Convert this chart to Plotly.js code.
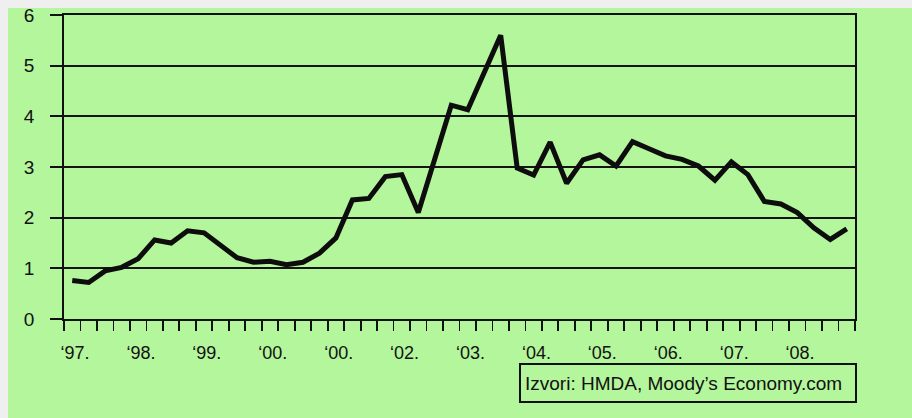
<!DOCTYPE html>
<html>
<head>
<meta charset="utf-8">
<script src="https://cdn.plot.ly/plotly-3.0.1.min.js"></script>
<style>
  html, body { margin:0; padding:0; }
  #wrap { position:relative; width:912px; height:418px; background:#efefef; overflow:hidden; }
  #green { position:absolute; left:8px; top:8px; right:0; bottom:0; background:rgb(180,246,156); }
  #chart { position:absolute; left:0; top:0; width:912px; height:418px; }
</style>
</head>
<body>
<div id="wrap"><div id="green"></div><div id="chart"></div></div>
<script>
// Quarterly values, 1997 Q1 .. 2008 Q4
const quarters = Array.from({length: 48}, (_, i) => i + 0.5);
const values = [0.76, 0.72, 0.95, 1.02, 1.19, 1.56, 1.50, 1.74, 1.70, 1.45, 1.21, 1.12,
                1.14, 1.07, 1.12, 1.30, 1.60, 2.35, 2.38, 2.81, 2.85, 2.10, 3.15, 4.22,
                4.13, 4.88, 5.60, 2.98, 2.84, 3.49, 2.68, 3.14, 3.24, 3.02, 3.50, 3.36,
                3.22, 3.15, 3.02, 2.74, 3.10, 2.85, 2.32, 2.27, 2.10, 1.80, 1.57, 1.78];
const yearLabels = ["\u201897.", "\u201898.", "\u201899.", "\u201800.", "\u201800.", "\u201802.",
                    "\u201803.", "\u201804.", "\u201805.", "\u201806.", "\u201807.", "\u201808."];
const yTicks = [0, 1, 2, 3, 4, 5, 6];
const sourceText = "Izvori: HMDA, Moody\u2019s Economy.com";

const tickPos = Array.from({length: 49}, (_, i) => i);
const tickText = tickPos.map(i => (i % 4 === 0 && i / 4 < yearLabels.length) ? yearLabels[i / 4] : "");

const font = "Liberation Sans, Arial, sans-serif";

const data = [{
  x: quarters, y: values, type: "scatter", mode: "lines",
  line: {color: "#0d0d0d", width: 5, shape: "linear"},
  hoverinfo: "skip", showlegend: false
}];

const layout = {
  width: 912, height: 418,
  margin: {l: 64, r: 57, t: 15, b: 99},
  paper_bgcolor: "rgba(0,0,0,0)",
  plot_bgcolor: "rgba(0,0,0,0)",
  showlegend: false,
  font: {family: font, color: "#111"},
  xaxis: {
    range: [0, 48], tickmode: "array", tickvals: tickPos, ticktext: tickText,
    ticks: "outside", ticklen: 10, tickwidth: 1.8, tickcolor: "#111",
    showline: true, linecolor: "#111", linewidth: 2, mirror: true,
    showgrid: false, zeroline: false,
    tickfont: {family: font, size: 18, color: "#111"},
    ticklabelshift: 11, ticklabelstandoff: 6
  },
  xaxis2: {
    range: [0, 48], overlaying: "x", anchor: "y", side: "bottom",
    tickmode: "array", tickvals: tickPos, showticklabels: false,
    ticks: "inside", ticklen: 4, tickwidth: 1.8, tickcolor: "#111",
    showgrid: false, zeroline: false, showline: false
  },
  yaxis: {
    range: [0, 6], tickmode: "array", tickvals: yTicks,
    ticks: "outside", ticklen: 12, tickwidth: 1.8, tickcolor: "#111",
    showline: true, linecolor: "#111", linewidth: 1.8, mirror: true,
    showgrid: true, gridcolor: "#151515", gridwidth: 1.8, zeroline: false,
    tickfont: {family: font, size: 19, color: "#111"},
    ticklabelstandoff: 12
  },
  annotations: [{
    xref: "paper", yref: "paper", x: (519 - 64) / 791, y: (319 - 363) / 304,
    xanchor: "left", yanchor: "top", showarrow: false,
    text: sourceText, align: "left",
    width: 326, height: 28,
    font: {family: font, size: 19, color: "#111"},
    bordercolor: "#111", borderwidth: 2, borderpad: 4
  }]
};

Plotly.newPlot("chart", data, layout, {staticPlot: true, displayModeBar: false});
</script>
</body>
</html>
